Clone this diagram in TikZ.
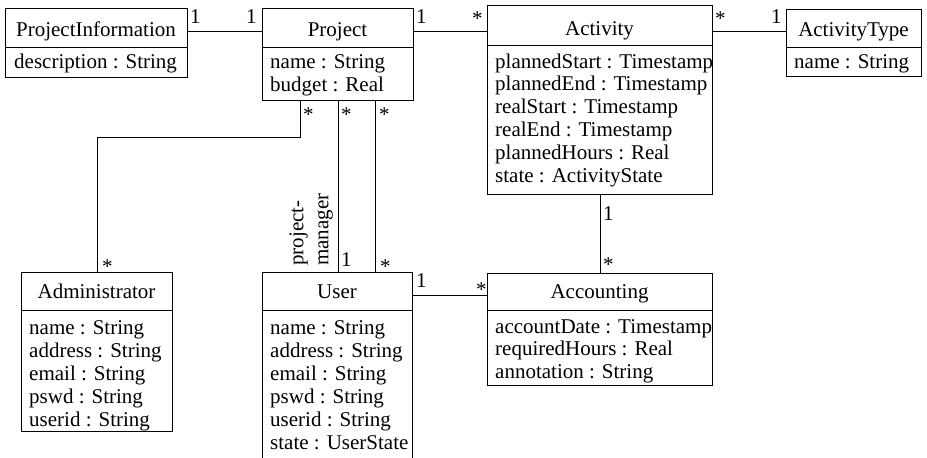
\documentclass[tikz,border=0pt]{standalone}
\usepackage{fontspec}
\setmainfont{Liberation Serif}
\begin{document}
\begin{tikzpicture}[x=1pt,y=-1pt,
  classbox/.style={draw, line width=0.9pt, minimum width=#1, inner sep=0pt, anchor=north west},
  conn/.style={line width=0.9pt},
  hdr/.style={anchor=base, inner sep=0pt},
  attr/.style={anchor=base west, inner sep=0pt},
  mult/.style={anchor=base west, inner sep=0pt},
  font=\fontsize{21}{23}\selectfont]
\useasboundingbox (0,0) rectangle (927,458);
\clip (0,0) rectangle (927,458);
\fill[white] (0,0) rectangle (927,458);

% class boxes
\node[classbox=182, minimum height=69] (pinfo) at (5,8) {};
\node[classbox=151, minimum height=92] (project) at (262,8) {};
\node[classbox=225, minimum height=189] (activity) at (487,5) {};
\node[classbox=135, minimum height=67] (atype) at (786,9) {};
\node[classbox=151, minimum height=159] (admin) at (21,272) {};
\node[classbox=150, minimum height=200] (user) at (262,272) {};
\node[classbox=225, minimum height=112] (accounting) at (487,273) {};

% header dividers
\coordinate (h47) at (0,47);
\coordinate (h45) at (0,45);
\coordinate (h310) at (0,310);
\draw[conn] (pinfo.west |- h47) -- (pinfo.east |- h47);
\draw[conn] (project.west |- h47) -- (project.east |- h47);
\draw[conn] (activity.west |- h45) -- (activity.east |- h45);
\draw[conn] (atype.west |- h47) -- (atype.east |- h47);
\draw[conn] (admin.west |- h310) -- (admin.east |- h310);
\draw[conn] (user.west |- h310) -- (user.east |- h310);
\draw[conn] (accounting.west |- h310) -- (accounting.east |- h310);

% headers
\node[hdr] (pinfo-h) at (96,36) {ProjectInformation};
\node[hdr] (project-h) at (337.5,36) {Project};
\node[hdr] (activity-h) at (599.5,35) {Activity};
\node[hdr] (atype-h) at (853.5,36) {ActivityType};
\node[hdr] (admin-h) at (96.5,298) {Administrator};
\node[hdr] (user-h) at (337,298) {User};
\node[hdr] (accounting-h) at (599.5,298) {Accounting};

% attributes
\node[attr] (pinfo-a1) at (14,68) {description : String};
\foreach \t [count=\i] in {name : String, budget : Real}
  \node[attr] (project-a\i) at (270,{68+(\i-1)*23}) {\t};
\foreach \t [count=\i] in {plannedStart : Timestamp, plannedEnd : Timestamp, realStart : Timestamp, realEnd : Timestamp, plannedHours : Real, state : ActivityState}
  \node[attr] (activity-a\i) at (495,{68+(\i-1)*22.8}) {\t};
\node[attr] (atype-a1) at (794,68) {name : String};
\foreach \t [count=\i] in {name : String, address : String, email : String, pswd : String, userid : String}
  \node[attr] (admin-a\i) at (29,{334+(\i-1)*23}) {\t};
\foreach \t [count=\i] in {name : String, address : String, email : String, pswd : String, userid : String, state : UserState}
  \node[attr] (user-a\i) at (270,{334+(\i-1)*23}) {\t};
\foreach \t [count=\i] in {accountDate : Timestamp, requiredHours : Real, annotation : String}
  \node[attr] (accounting-a\i) at (495,{333+(\i-1)*22.5}) {\t};

% connectors
\coordinate (r31) at (0,31);
\coordinate (c1) at (300,137);
\coordinate (c2) at (97,137);
\coordinate (m338) at (338,0);
\coordinate (m375) at (375,0);
\coordinate (m600) at (600,0);
\coordinate (r295) at (0,295);
\draw[conn] (pinfo.east |- r31) -- (project.west |- r31);
\draw[conn] (project.east |- r31) -- (activity.west |- r31);
\draw[conn] (activity.east |- r31) -- (atype.west |- r31);
\draw[conn] (project.south -| c1) -- (c1) -- (c2) -- (admin.north -| c2);
\draw[conn] (project.south -| m338) -- (user.north -| m338);
\draw[conn] (project.south -| m375) -- (user.north -| m375);
\draw[conn] (activity.south -| m600) -- (accounting.north -| m600);
\draw[conn] (user.east |- r295) -- (accounting.west |- r295);

% multiplicities
\node[mult] (m1) at (190,23) {1};
\node[mult] (m2) at (246,23) {1};
\node[mult] (m3) at (416,23) {1};
\node[mult] (m4) at (472,25) {*};
\node[mult] (m5) at (715,25) {*};
\node[mult] (m6) at (771,23) {1};
\node[mult] (m7) at (303,121) {*};
\node[mult] (m8) at (341,121) {*};
\node[mult] (m9) at (379,121) {*};
\node[mult] (m10) at (102,273) {*};
\node[mult] (m11) at (341,266) {1};
\node[mult] (m12) at (380,273) {*};
\node[mult] (m13) at (416,287) {1};
\node[mult] (m14) at (476,296) {*};
\node[mult] (m15) at (603,220) {1};
\node[mult] (m16) at (603,271) {*};

% role name
\node[rotate=90, anchor=south west, align=left, inner sep=0pt,
  font=\fontsize{21}{25}\selectfont] (role) at (333,266) {project-\\manager};
\end{tikzpicture}
\end{document}
